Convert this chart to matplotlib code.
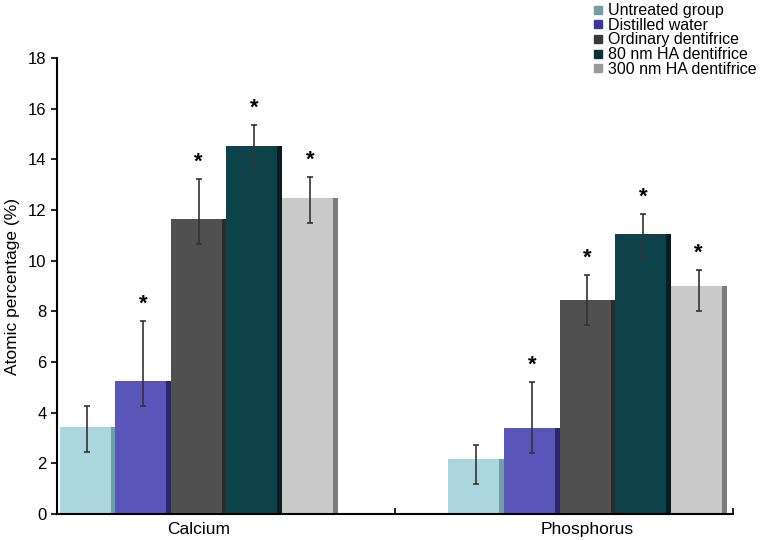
import matplotlib.pyplot as plt
import numpy as np
from matplotlib.lines import Line2D

plt.rcParams['font.family'] = ['Liberation Sans', 'DejaVu Sans']

elements = ["Calcium", "Phosphorus"]
groups = ["Untreated group", "Distilled water", "Ordinary dentifrice",
          "80 nm HA dentifrice", "300 nm HA dentifrice"]
colors = ["#abd6dd", "#5a55b9", "#505050", "#0e424a", "#c9c9c9"]
shades = ["#6e9ea6", "#2a2670", "#2b2b2b", "#061e22", "#7c7c7c"]
legend_colors = ["#6f9ea4", "#3a3898", "#3a3a3a", "#0b3036", "#9a9a9a"]

# means, upper and lower error per group: [Calcium, Phosphorus]
means = [[3.43, 2.16], [5.25, 3.41], [11.64, 8.44], [14.54, 11.04], [12.46, 9.01]]
err_up = [[0.83, 0.56], [2.38, 1.79], [1.58, 1.00], [0.82, 0.82], [0.83, 0.62]]
err_lo = [[0.97, 0.98], [0.97, 0.99], [0.98, 0.98], [0.99, 0.99], [0.99, 1.00]]
stars = [[False, False], [True, True], [True, True], [True, True], [True, True]]

fig = plt.figure(figsize=(7.76, 5.4), dpi=100)
ax = fig.add_axes([0.0735, 0.0481, 0.871, 0.8445])

x = np.arange(len(elements))
w = 0.143
for i, g in enumerate(groups):
    pos = x + (i - 2) * w
    ax.bar(pos, means[i], width=w, color=colors[i], zorder=2)
    ax.bar(pos + w / 2 - 0.006, means[i], width=0.012, color=shades[i], zorder=2)
    ax.errorbar(pos, means[i], yerr=[err_lo[i], err_up[i]], fmt="none",
                ecolor="#333333", elinewidth=1.2, capsize=2.5, capthick=1.2, zorder=3)
    for j in range(len(elements)):
        if stars[i][j]:
            ax.text(pos[j], means[i][j] + err_up[i][j] + 0.25, "*", ha="center",
                    va="bottom", fontsize=16, fontweight="bold")

ax.set_xlim(-0.364, 1.374)
ax.set_ylim(0, 18)
ax.set_yticks(range(0, 19, 2))
ax.set_xticks(x)
ax.set_xticklabels(elements, fontsize=12.5)
ax.tick_params(axis="x", length=0, pad=6)
ax.set_xticks([-0.364, 0.505, 1.374], minor=True)
ax.tick_params(axis="x", which="minor", length=4, direction="in", width=1.2)
ax.tick_params(axis="y", labelsize=12, length=4, width=1.2)
ax.spines["top"].set_visible(False)
ax.spines["right"].set_visible(False)
ax.spines["left"].set_linewidth(1.5)
ax.spines["bottom"].set_linewidth(1.5)
ax.set_ylabel("Atomic percentage (%)", fontsize=12.5, labelpad=6)

handles = [Line2D([], [], marker="s", linestyle="none", markersize=6,
                  markerfacecolor=c, markeredgecolor=c) for c in legend_colors]
fig.legend(handles, groups, loc="upper left", bbox_to_anchor=(0.748, 1.012),
           frameon=False, fontsize=11.5, handletextpad=0.15, labelspacing=-0.02,
           handlelength=1.0, borderaxespad=0.2)

fig.savefig("out.png", dpi=100)
